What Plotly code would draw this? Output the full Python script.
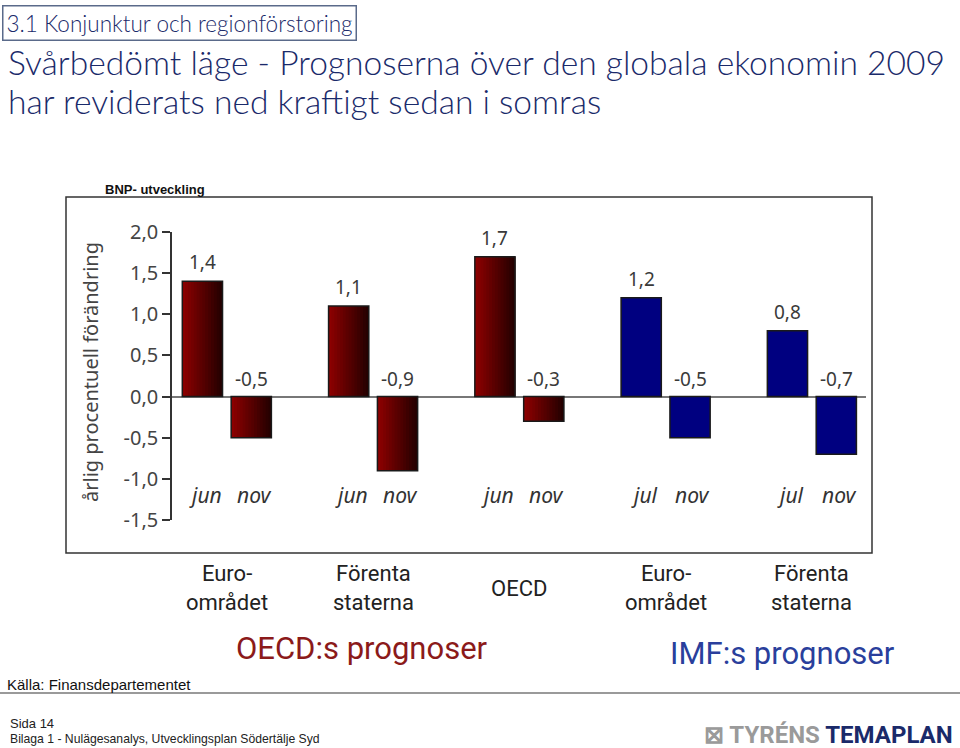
import plotly.graph_objects as go

# ---- data ----
groups = ["Euro-<br>området", "Förenta<br>staterna", "OECD", "Euro-<br>området", "Förenta<br>staterna"]
source = ["OECD", "OECD", "OECD", "IMF", "IMF"]
first_labels = ["jun", "jun", "jun", "jul", "jul"]
second_labels = ["nov", "nov", "nov", "nov", "nov"]
first_values = [1.4, 1.1, 1.7, 1.2, 0.8]
second_values = [-0.5, -0.9, -0.3, -0.5, -0.7]
y_ticks = [-1.5, -1.0, -0.5, 0.0, 0.5, 1.0, 1.5, 2.0]

W = 960
H = 748
OFF = 0.167
BW = 0.275

def fmt(v):
    return f"{v:.1f}".replace(".", ",")

def py(p):
    return 1 - p / H

fig = go.Figure()

gx = list(range(len(groups)))
bars = []
for i in gx:
    bars.append((i - OFF, first_values[i], first_labels[i], source[i]))
    bars.append((i + OFF, second_values[i], second_labels[i], source[i]))

red_x = [b[0] for b in bars if b[3] == "OECD"]
red_y = [b[1] for b in bars if b[3] == "OECD"]
blue_x = [b[0] for b in bars if b[3] == "IMF"]
blue_y = [b[1] for b in bars if b[3] == "IMF"]

# gradient red bars built from overlapping slices
N = 14
c0 = (140, 0, 0)
c1 = (38, 0, 0)
for k in range(N):
    t = k / (N - 1)
    col = tuple(int(c0[j] + (c1[j] - c0[j]) * t) for j in range(3))
    fig.add_trace(go.Bar(
        x=red_x, y=red_y, width=BW - k * BW / N, offset=-BW / 2 + k * BW / N,
        marker=dict(color=f"rgb{col}", line=dict(width=0)),
        showlegend=False, hoverinfo="skip"))
fig.add_trace(go.Bar(
    x=red_x, y=red_y, width=BW, offset=-BW / 2,
    marker=dict(color="rgba(0,0,0,0)", line=dict(color="#1a1a1a", width=1.5)),
    showlegend=False, hoverinfo="skip"))
fig.add_trace(go.Bar(
    x=blue_x, y=blue_y, width=BW, offset=-BW / 2,
    marker=dict(color="#000080", line=dict(color="#1a1a1a", width=1.5)),
    showlegend=False, hoverinfo="skip"))

ann = []
chart_font = "Noto Sans, DejaVu Sans, sans-serif"
narrow = "Liberation Sans Narrow, Roboto, sans-serif"
for (x, v, lab, src) in bars:
    ann.append(dict(x=x, y=max(v, 0), xref="x", yref="y", text=fmt(v),
                    showarrow=False, yshift=19 if v > 0 else 18,
                    xanchor="center", yanchor="middle",
                    font=dict(family=chart_font, size=19, color="#3a3a3a")))
    ann.append(dict(x=x + 0.02, y=-1.2, xref="x", yref="y", text=f"<i>{lab}</i>",
                    showarrow=False, xanchor="center", yanchor="middle",
                    font=dict(family=chart_font, size=21, color="#333333")))

for i, g in enumerate(groups):
    ann.append(dict(x=i, y=py(588), xref="x", yref="paper", text=g,
                    showarrow=False, align="center", xanchor="center", yanchor="middle",
                    font=dict(family=narrow, size=22, color="#222222")))

# y-axis title
ann.append(dict(x=90 / W, y=py(372), xref="paper", yref="paper",
                text="årlig procentuell förändring", textangle=-90, showarrow=False,
                xanchor="center", yanchor="middle",
                font=dict(family=chart_font, size=20, color="#444444")))

# group-source labels
ann.append(dict(x=362 / W, y=py(648), xref="paper", yref="paper", text="OECD:s prognoser",
                showarrow=False, xanchor="center", yanchor="middle",
                font=dict(family=narrow, size=31, color="#8b1a1a")))
ann.append(dict(x=782 / W, y=py(653), xref="paper", yref="paper", text="IMF:s prognoser",
                showarrow=False, xanchor="center", yanchor="middle",
                font=dict(family=narrow, size=31, color="#2a3f9c")))

# chart caption
ann.append(dict(x=103 / W, y=py(189), xref="paper", yref="paper", text="<b>BNP- utveckling</b>",
                showarrow=False, xanchor="left", yanchor="middle",
                font=dict(family="Liberation Sans, Arial, sans-serif", size=13, color="#111111")))

# slide header
title_font = "Lato, Noto Sans, sans-serif"
ann.append(dict(x=2 / W, y=py(5), xref="paper", yref="paper", xanchor="left", yanchor="top",
                text="3.1 Konjunktur och regionförstoring", showarrow=False,
                bordercolor="#5a6a8a", borderwidth=1.5, borderpad=3,
                font=dict(family=title_font, size=22.5, color="#1a2a6a", weight=300)))
ann.append(dict(x=6 / W, y=py(62), xref="paper", yref="paper", xanchor="left", yanchor="middle",
                text="Svårbedömt läge - Prognoserna över den globala ekonomin 2009", showarrow=False,
                font=dict(family=title_font, size=33.6, color="#1a2a6a", weight=300)))
ann.append(dict(x=6 / W, y=py(101), xref="paper", yref="paper", xanchor="left", yanchor="middle",
                text="har reviderats ned kraftigt sedan i somras", showarrow=False,
                font=dict(family=title_font, size=33.6, color="#1a2a6a", weight=300)))

# footer
ann.append(dict(x=5 / W, y=py(684), xref="paper", yref="paper", xanchor="left", yanchor="middle",
                text="Källa: Finansdepartementet", showarrow=False,
                font=dict(family="Liberation Sans, Arial, sans-serif", size=15, color="#111111")))
ann.append(dict(x=8 / W, y=py(723), xref="paper", yref="paper", xanchor="left", yanchor="middle",
                text="Sida 14", showarrow=False,
                font=dict(family="Liberation Sans, sans-serif", size=13, color="#222222")))
ann.append(dict(x=8 / W, y=py(739), xref="paper", yref="paper", xanchor="left", yanchor="middle",
                text="Bilaga 1 - Nulägesanalys, Utvecklingsplan Södertälje Syd", showarrow=False,
                font=dict(family="Liberation Sans, sans-serif", size=12.2, color="#222222")))
ann.append(dict(x=955 / W, y=py(735), xref="paper", yref="paper", xanchor="right", yanchor="middle",
                text="<b><span style='color:#9a9a9a'>⊠ TYRÉNS</span> <span style='color:#1a2a6a'>TEMAPLAN</span></b>",
                showarrow=False,
                font=dict(family=narrow, size=24)))

shapes = [
    dict(type="rect", xref="paper", yref="paper", x0=66 / W, x1=872 / W,
         y0=py(553), y1=py(197), line=dict(color="#333333", width=1.5)),
    dict(type="line", xref="paper", yref="paper", x0=0, x1=1,
         y0=py(693), y1=py(693), line=dict(color="#9a9a9a", width=2)),
]

fig.update_layout(
    width=W, height=H, barmode="overlay",
    margin=dict(l=0, r=0, t=0, b=0, autoexpand=False),
    paper_bgcolor="white", plot_bgcolor="white",
    annotations=ann, shapes=shapes, showlegend=False,
    xaxis=dict(domain=[172 / W, 866 / W], range=[-0.375, 4.37],
               showticklabels=False, showgrid=False, zeroline=False, showline=False, ticks=""),
    yaxis=dict(domain=[py(520), py(232)], range=[-1.5, 2.0],
               tickvals=y_ticks, ticktext=[fmt(v) for v in y_ticks],
               ticks="outside", ticklen=8, tickcolor="#333333", tickwidth=1.5,
               showline=True, linecolor="#333333", linewidth=1.5,
               showgrid=False, zeroline=True, zerolinecolor="#777777", zerolinewidth=2,
               tickfont=dict(family=chart_font, size=20, color="#444444")),
)

fig.write_html("out.html", config={"displayModeBar": False},
               post_script="document.body.style.margin='0';document.body.style.overflow='hidden';")
